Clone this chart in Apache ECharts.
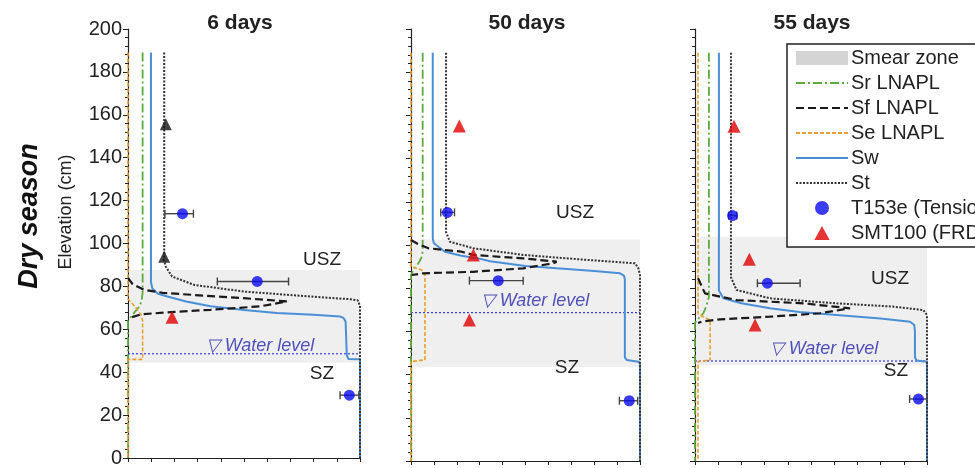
<!DOCTYPE html>
<html><head><meta charset="utf-8">
<script src="https://cdn.jsdelivr.net/npm/echarts@6/dist/echarts.min.js"></script>
<style>html,body{margin:0;padding:0;background:#fff}#c{width:975px;height:468px}</style>
</head><body><div id="c"></div>
<script>
// ---- data: [saturation, elevation(cm)] ----
const panelTitles = ['6 days', '50 days', '55 days'];
const yTicks = [0, 20, 40, 60, 80, 100, 120, 140, 160, 180, 200];

const p1_Sw = [[0.099,189],[0.099,82],[0.105,79],[0.13,76.5],[0.17,75.3],[0.25,73],[0.356,70.7],[0.5,69],[0.642,67.6],[0.8,66.8],[0.914,66.0],[0.93,65.2],[0.938,63.5],[0.943,48],[0.95,46.2],[1,46],[1,0]];
const p1_St = [[0.156,189],[0.156,92],[0.163,89.2],[0.19,84.6],[0.285,80.7],[0.5,77.6],[0.785,75.3],[0.96,74],[0.99,73.5],[1,71],[1,0]];
const p1_Sr = [[0.063,189],[0.063,77],[0.058,73],[0.049,70.7],[0.02,66.8],[0,64],[0,0]];
const p1_Se = [[0,189],[0,74],[0.015,72.5],[0.034,70],[0.056,66.8],[0.063,64],[0.063,46],[0,46],[0,0]];
const p1_Sf = [[0,84],[0.02,81],[0.07,78.4],[0.15,77],[0.285,76],[0.5,74.5],[0.685,73],[0.69,72.2],[0.57,70.7],[0.356,69.1],[0.185,68],[0.056,67],[0.006,65.3]];
const p1_T153e = [[0.235,113.9,0.159,0.282],[0.557,82.3,0.385,0.692],[0.954,29.3,0.914,0.995]];
const p1_SMT100 = [[0.19,65.6]];
const p1_black = [[0.163,155.6],[0.156,93.8]];
const p1_water = 48.6;
const p1_smear = [44.4, 87.6];

const p2_Sw = [[0.095,189],[0.095,103],[0.1,100.8],[0.148,96.9],[0.22,95],[0.294,93.8],[0.345,92.5],[0.5,90.3],[0.636,89.2],[0.8,88],[0.913,86.9],[0.93,85.8],[0.934,84],[0.934,48],[0.942,46.8],[0.993,46],[1,45],[1,0]];
const p2_St = [[0.153,189],[0.153,106],[0.17,101.5],[0.272,98.5],[0.49,95.4],[0.78,93],[0.978,91.5],[0.993,89.2],[1,86],[1,0]];
const p2_Sr = [[0.051,189],[0.051,97],[0.045,94],[0.032,91.5],[0.01,88.4],[0,86],[0,0]];
const p2_Se = [[0,189],[0,90],[0.047,88.4],[0.061,86.1],[0.061,46.8],[0.055,46],[0,46],[0,0]];
const p2_Sf = [[0,102.3],[0.03,100.5],[0.076,98.5],[0.221,96.9],[0.272,95.4],[0.49,93.8],[0.636,92.3],[0.62,91.5],[0.49,89.2],[0.272,87.6],[0.054,86.9],[0.003,86.1]];
const p2_T153e = [[0.159,115.1,0.13,0.19],[0.381,83.5,0.255,0.49],[0.953,27.9,0.91,0.99]];
const p2_SMT100 = [[0.211,155.1],[0.272,95.4],[0.255,65.3]];
const p2_water = 68.7;
const p2_smear = [43.5, 102.6];

const p3_Sw = [[0.103,189],[0.103,79],[0.122,75.3],[0.2,73],[0.323,70.7],[0.45,69],[0.61,67.6],[0.8,66],[0.927,64.5],[0.945,63],[0.948,60],[0.948,48],[0.955,46.5],[1,46],[1,0]];
const p3_St = [[0.155,189],[0.155,85],[0.179,79.2],[0.323,75.3],[0.61,73],[0.85,71.5],[0.984,69.9],[1,67.6],[1,0]];
const p3_Sr = [[0.06,189],[0.06,76],[0.05,72],[0.036,68.4],[0.022,66.8],[0,64],[0,0]];
const p3_Se = [[0.013,189],[0.013,68],[0.04,66.5],[0.065,65.3],[0.065,46.8],[0.06,46],[0.013,46],[0.013,0]];
const p3_Sf = [[0.013,84.6],[0.043,77.6],[0.18,74.5],[0.467,73],[0.668,70.7],[0.67,70],[0.539,68.4],[0.323,66.8],[0.108,65.6],[0.029,64.5],[0.013,63.9]];
const p3_T153e = [[0.162,113.6,0.145,0.18],[0.312,82.3,0.269,0.453],[0.963,28.7,0.925,1.0]];
const p3_SMT100 = [[0.168,155],[0.234,93.4],[0.259,63]];
const p3_water = 46.3;
const p3_smear = [44.4, 103.8];

// ---- build ----
const panels = [
  {Sw:p1_Sw,St:p1_St,Sr:p1_Sr,Se:p1_Se,Sf:p1_Sf,T:p1_T153e,M:p1_SMT100,B:p1_black,water:p1_water,smear:p1_smear},
  {Sw:p2_Sw,St:p2_St,Sr:p2_Sr,Se:p2_Se,Sf:p2_Sf,T:p2_T153e,M:p2_SMT100,B:[],water:p2_water,smear:p2_smear},
  {Sw:p3_Sw,St:p3_St,Sr:p3_Sr,Se:p3_Se,Sf:p3_Sf,T:p3_T153e,M:p3_SMT100,B:[],water:p3_water,smear:p3_smear}
];
const gridLefts = [128, 411, 695];
const gridWidths = [232, 229, 232];
const FONT = '"Liberation Sans", Arial, sans-serif';

const grids = [], xAxes = [], yAxes = [], series = [];
panels.forEach((p, i) => {
  grids.push({left: gridLefts[i], width: gridWidths[i], top: 29, height: 432});
  xAxes.push({type:'value', gridIndex:i, min:0, max:1, interval:0.1,
    axisLine:{show:true, lineStyle:{color:'#222', width:1.2}},
    axisTick:{show:true, length:4, lineStyle:{color:'#222'}},
    axisLabel:{show:false}, splitLine:{show:false}});
  yAxes.push({type:'value', gridIndex:i, min:0, max:200, interval:20,
    axisLine:{show:true, lineStyle:{color:'#222', width:1.2}},
    axisTick:{show:true, length:5, lineStyle:{color:'#222'}},
    minorTick:{show:true, splitNumber:5, length:3, lineStyle:{color:'#222'}},
    axisLabel:{show:i===0, fontSize:20, color:'#222', fontFamily:FONT, margin:6,
      formatter: v => yTicks.includes(v) ? String(v) : ''},
    splitLine:{show:false}});
  series.push({name:'Smear zone', type:'custom', xAxisIndex:i, yAxisIndex:i, z:1,
    data:[p.smear], silent:true,
    renderItem:(params, api) => {
      const a = api.coord([0, api.value(1)]);
      const b = api.coord([1, api.value(0)]);
      return {type:'rect', shape:{x:a[0]+1, y:a[1], width:b[0]-a[0]-1, height:b[1]-a[1]},
        style:{fill:'#efefef'}};
    }, itemStyle:{color:'#d4d4d4'}});
  series.push({name:'water'+i, type:'line', xAxisIndex:i, yAxisIndex:i, z:2,
    data:[[0,p.water],[1,p.water]], symbol:'none',
    lineStyle:{color:'#3a3ad0', width:1.2, type:[2,2]}});
  const ln = (name, data, color, width, type, z) => series.push({name, type:'line',
    xAxisIndex:i, yAxisIndex:i, data, symbol:'none', showSymbol:false, z:z||3,
    lineStyle:{color, width, type}, itemStyle:{color}});
  ln('Sr LNAPL', p.Sr, '#5DAA3C', 1.8, [9,3,2,3]);
  ln('Sf LNAPL', p.Sf, '#1a1a1a', 2.2, [8,4], 4);
  ln('Se LNAPL', p.Se, '#E8A030', 1.6, [4,2]);
  ln('Sw', p.Sw, '#4A8FD6', 2);
  ln('St', p.St, '#333333', 2, [2,1.5]);
  series.push({name:'err'+i, type:'custom', xAxisIndex:i, yAxisIndex:i, z:5, data:p.T, silent:true,
    renderItem:(params, api) => {
      const l = api.coord([api.value(2), api.value(1)]);
      const r = api.coord([api.value(3), api.value(1)]);
      const st = {stroke:'#444', lineWidth:1.4};
      return {type:'group', children:[
        {type:'line', shape:{x1:l[0], y1:l[1], x2:r[0], y2:r[1]}, style:st},
        {type:'line', shape:{x1:l[0], y1:l[1]-4, x2:l[0], y2:l[1]+4}, style:st},
        {type:'line', shape:{x1:r[0], y1:r[1]-4, x2:r[0], y2:r[1]+4}, style:st}]};
    }});
  series.push({name:'T153e (Tensio)', type:'scatter', xAxisIndex:i, yAxisIndex:i, z:6,
    data:p.T.map(d => [d[0], d[1]]), symbol:'circle', symbolSize:11,
    itemStyle:{color:'#0a0aee'}});
  series.push({name:'SMT100 (FRD)', type:'scatter', xAxisIndex:i, yAxisIndex:i, z:6,
    data:p.M, symbol:'triangle', symbolSize:13, itemStyle:{color:'#e00000'}});
  if (p.B.length) series.push({name:'black', type:'scatter', xAxisIndex:i, yAxisIndex:i, z:6,
    data:p.B, symbol:'triangle', symbolSize:12, itemStyle:{color:'#111'}});
});

const txt = (x, y, text, font, fill, align, rot) => ({type:'text', x, y, rotation: rot||0,
  style:{text, font, fill: fill||'#222', textAlign: align||'center', textVerticalAlign:'middle'}, z:50});

const graphics = [
  txt(240, 23, panelTitles[0], 'bold 21px ' + FONT),
  txt(527, 23, panelTitles[1], 'bold 21px ' + FONT),
  txt(812, 23, panelTitles[2], 'bold 21px ' + FONT),
  txt(66, 212, 'Elevation (cm)', '18px ' + FONT, '#222', 'center', Math.PI/2),
  txt(30, 216, 'Dry season', 'italic bold 27px ' + FONT, '#111', 'center', Math.PI/2),
  txt(322, 260, 'USZ', '19px ' + FONT),
  txt(322, 374, 'SZ', '19px ' + FONT),
  txt(575, 213, 'USZ', '19px ' + FONT),
  txt(567, 368, 'SZ', '19px ' + FONT),
  txt(890, 279, 'USZ', '19px ' + FONT),
  txt(896, 371, 'SZ', '19px ' + FONT),
  txt(260, 346, '\u25BD Water level', 'italic 18px ' + FONT, '#5050b8'),
  txt(535, 301, '\u25BD Water level', 'italic 18px ' + FONT, '#5050b8'),
  txt(824, 349, '\u25BD Water level', 'italic 18px ' + FONT, '#5050b8')
];

const hideSym = {opacity:0};
const option = {
  animation: false,
  backgroundColor: '#fff',
  grid: grids, xAxis: xAxes, yAxis: yAxes, series,
  legend: {
    orient:'vertical', left: 787, top: 44, padding:[4, 30, 4, 8],
    backgroundColor:'#fff', borderColor:'#222', borderWidth:1.5,
    itemWidth: 52, itemHeight: 14, itemGap: 5,
    symbolKeepAspect: true,
    textStyle:{fontSize:20, color:'#222', fontFamily:FONT, padding:[0,0,0,-2]},
    selectedMode:false, z: 40,
    data:[
      {name:'Smear zone', icon:'rect', itemStyle:{color:'#d4d4d4'}},
      {name:'Sr LNAPL', itemStyle:hideSym},
      {name:'Sf LNAPL', itemStyle:hideSym},
      {name:'Se LNAPL', itemStyle:hideSym},
      {name:'Sw', itemStyle:hideSym},
      {name:'St', itemStyle:hideSym},
      'T153e (Tensio)',
      {name:'SMT100 (FRD)', icon:'path://M6,0L12,11L0,11Z'}
    ]
  },
  graphic: graphics
};
const chart = echarts.init(document.getElementById('c'), null, {renderer:'canvas'});
chart.setOption(option);
</script></body></html>
